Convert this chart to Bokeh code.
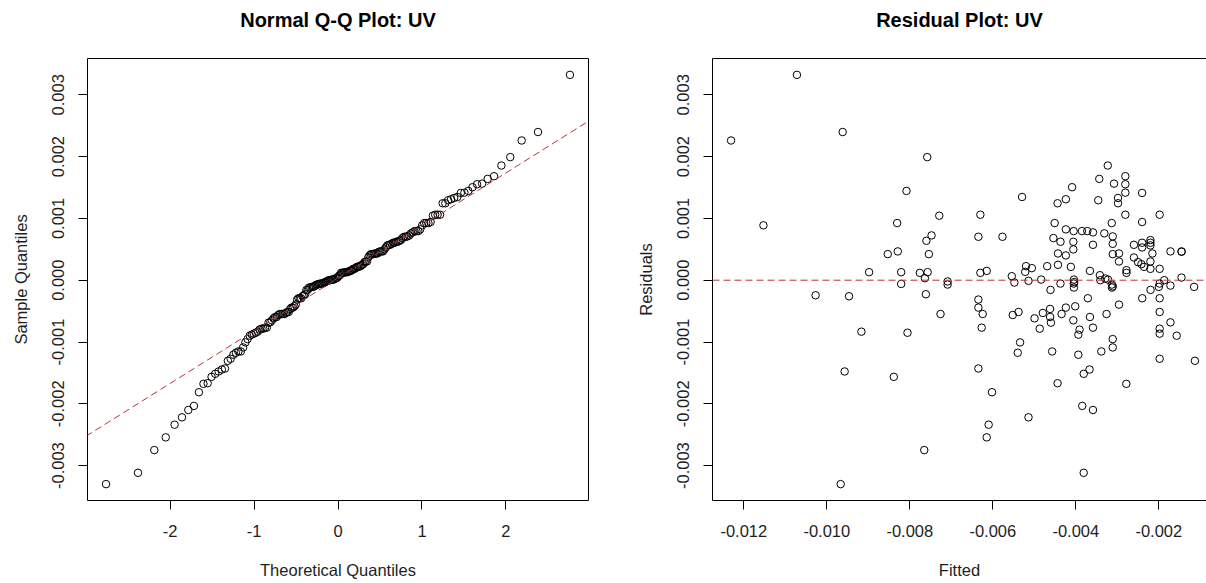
import statistics

from bokeh.embed import file_html
from bokeh.layouts import row
from bokeh.models import (FixedTicker, LinearAxis, NumeralTickFormatter, Range1d,
                          Slope, Span)
from bokeh.plotting import figure
from bokeh.resources import INLINE

# ---- data -----------------------------------------------------------------
# fitted values and residuals of the UV model
fitted = [
    -0.012307, -0.011527, -0.010720, -0.009618, -0.007580, -0.008080, -0.007290, -0.008305, -0.007476, -0.007600,
    -0.007541, -0.008531, -0.008290, -0.008981, -0.008208, -0.008208, -0.007758, -0.007570, -0.007637, -0.010270,
    -0.009464, -0.009167, -0.009570, -0.008386, -0.008056, -0.007652, -0.009666, -0.007613, -0.007260, -0.007089,
    -0.007089, -0.006300, -0.006348, -0.005768, -0.006300, -0.006147, -0.005295, -0.005543, -0.005200, -0.005220,
    -0.005060, -0.005480, -0.005140, -0.004835, -0.004690, -0.004440, -0.004240, -0.004090, -0.004510, -0.004540,
    -0.004370, -0.004430, -0.004240, -0.004430, -0.004240, -0.004053, -0.003853, -0.003724, -0.003587, -0.004060,
    -0.004060, -0.004120, -0.003660, -0.003587, -0.003460, -0.003435, -0.003230, -0.003080, -0.002983, -0.002983,
    -0.002807, -0.002807, -0.002807, -0.002807, -0.003314, -0.003135, -0.003111, -0.003111, -0.003110, -0.002960,
    -0.002960, -0.002780, -0.002780, -0.003420, -0.003290, -0.003225, -0.003410, -0.002403, -0.002403, -0.001980,
    -0.002600, -0.002403, -0.002403, -0.002203, -0.002203, -0.002203, -0.002155, -0.002600, -0.002500, -0.002420,
    -0.002355, -0.002203, -0.002203, -0.001980, -0.001720, -0.001454, -0.001450, -0.001454, -0.001870, -0.001980,
    -0.002000, -0.001720, -0.001150, -0.004370, -0.004046, -0.004040, -0.004050, -0.004046, -0.003130, -0.003130,
    -0.003110, -0.002200, -0.006348, -0.006348, -0.006244, -0.006268, -0.006348, -0.006020, -0.006100, -0.006147,
    -0.005520, -0.005380, -0.005343, -0.005400, -0.005140, -0.004995, -0.004870, -0.004795, -0.004610, -0.004620,
    -0.004620, -0.004600, -0.004570, -0.004440, -0.004343, -0.004240, -0.004060, -0.004015, -0.003910, -0.003940,
    -0.003940, -0.003810, -0.003670, -0.003845, -0.003587, -0.003810, -0.003710, -0.003660, -0.003587, -0.003386,
    -0.003260, -0.002960, -0.003111, -0.003111, -0.002783, -0.002400, -0.001980, -0.001980, -0.001980, -0.001980,
    -0.001980, -0.001720, -0.001570, -0.001130,
]

resid = [
    0.002261, 0.000888, 0.003323, 0.002398, 0.001992, 0.001445, 0.001044, 0.000925, 0.000725, 0.000638,
    0.000422, 0.000422, 0.000466, 0.000130, 0.000130, -0.000060, 0.000119, 0.000130, 0.000032, -0.000244,
    -0.000260, -0.000833, -0.001477, -0.001564, -0.000850, -0.002749, -0.003300, -0.000227, -0.000547, -0.000020,
    -0.000070, 0.001060, 0.000703, 0.000703, 0.000119, 0.000151, 0.001347, 0.000065, 0.000227, 0.000135,
    0.000195, -0.000038, -0.000010, 0.000010, 0.000227, 0.001245, 0.001310, 0.001505, 0.000925, 0.000682,
    0.000622, 0.000433, 0.000401, 0.000249, 0.000823, 0.000795, 0.000795, 0.000795, 0.000774, 0.000622,
    0.000498, 0.000216, 0.000151, 0.000573, 0.001294, 0.001640, 0.001856, 0.001563, 0.001331, 0.001245,
    0.001683, 0.001553, 0.001417, 0.001060, 0.000758, 0.000925, 0.000709, 0.000589, 0.000422, 0.000433,
    0.000303, 0.000162, 0.000119, 0.000081, 0.000027, 0.000010, 0.000000, 0.001412, 0.000942, 0.001060,
    0.000573, 0.000606, 0.000530, 0.000649, 0.000606, 0.000563, 0.000433, 0.000368, 0.000292, 0.000260,
    0.000216, 0.000303, 0.000184, 0.000184, 0.000466, 0.000466, 0.000460, 0.000043, 0.000000, -0.000054,
    -0.000108, -0.000087, -0.000108, -0.000054, 0.000010, -0.000030, -0.000054, -0.000119, -0.000070, -0.000119,
    -0.000100, -0.000157, -0.000313, -0.000443, -0.000547, -0.000768, -0.001429, -0.001813, -0.002338, -0.002543,
    -0.000563, -0.000514, -0.001006, -0.001174, -0.002219, -0.000617, -0.000784, -0.000530, -0.000157, -0.000465,
    -0.000595, -0.000687, -0.001153, -0.001667, -0.000547, -0.000443, -0.000649, -0.000422, -0.000800, -0.000881,
    -0.001206, -0.001515, -0.001445, -0.002034, -0.002100, -0.003117, -0.000292, -0.000595, -0.000768, -0.001153,
    -0.000547, -0.000395, -0.000953, -0.001088, -0.001677, -0.000292, -0.000292, -0.000514, -0.000784, -0.000865,
    -0.001271, -0.000682, -0.000898, -0.001304,
]

# reference line of the normal Q-Q plot (through the quartiles)
qq_line_intercept = 0.0000325
qq_line_slope = 0.000852

qq_x_ticks = [-2, -1, 0, 1, 2]
resid_ticks = [-0.003, -0.002, -0.001, 0.0, 0.001, 0.002, 0.003]
fitted_ticks = [-0.012, -0.010, -0.008, -0.006, -0.004, -0.002]

# ---- derived values ---------------------------------------------------------
n = len(resid)
sample_q = sorted(resid)
nd = statistics.NormalDist()
theo_q = [nd.inv_cdf((i + 0.5) / n) for i in range(n)]


def padded(values, frac=0.04):
    lo, hi = min(values), max(values)
    pad = (hi - lo) * frac
    return lo - pad, hi + pad


# ---- layout ------------------------------------------------------------------
FONT = "Liberation Sans"
FRAME_W = 501
FRAME_H = 442
TOP = 58
BOTTOM = 583 - TOP - FRAME_H
P1_LEFT = 87
P1_RIGHT = 36
P2_LEFT = 88
P2_FRAME_W = 1206 - (P1_LEFT + FRAME_W + P1_RIGHT) - P2_LEFT  # right panel runs off the page edge

LINE_RED = "#b53535"
TEXT = "#1e1e1e"


def style_axis(ax, vertical=False):
    ax.major_tick_out = 9
    ax.major_tick_in = 0
    ax.minor_tick_line_color = None
    ax.major_tick_line_color = "black"
    ax.axis_line_color = "black"
    ax.major_label_text_font = FONT
    ax.major_label_text_font_size = "16.5px"
    ax.major_label_text_color = TEXT
    ax.axis_label_text_font = FONT
    ax.axis_label_text_font_size = "16.5px"
    ax.axis_label_text_font_style = "normal"
    ax.axis_label_text_color = TEXT
    if vertical:
        ax.major_label_orientation = "vertical"
        ax.major_label_standoff = 14
        ax.axis_label_standoff = 20
    else:
        ax.major_label_standoff = 15
        ax.axis_label_standoff = 21


def border_axis(p, side, title=None):
    """Plain box edge; the top edge also carries the panel's main title."""
    ax = LinearAxis(ticker=FixedTicker(ticks=[]), major_tick_out=0, major_tick_in=0,
                    minor_tick_out=0, minor_tick_in=0, major_label_text_font_size="0px",
                    major_label_standoff=0, axis_line_color="black")
    if title is not None:
        ax.axis_label = title
        ax.axis_label_text_font = FONT
        ax.axis_label_text_font_size = "20px"
        ax.axis_label_text_font_style = "bold"
        ax.axis_label_text_color = "black"
        ax.axis_label_standoff = 28
    p.add_layout(ax, side)


def make_panel(frame_w, left, right, x_range, y_range):
    p = figure(frame_width=frame_w, frame_height=FRAME_H,
               min_border_left=left, min_border_right=right,
               min_border_top=TOP, min_border_bottom=BOTTOM,
               x_range=x_range, y_range=y_range,
               output_backend="svg", toolbar_location=None,
               background_fill_color="white", border_fill_color="white")
    p.outline_line_color = None
    p.xgrid.visible = False
    p.ygrid.visible = False
    return p


y_lo, y_hi = padded(resid)

# ---- Normal Q-Q plot ------------------------------------------------------------
qx_lo, qx_hi = padded(theo_q)
p1 = make_panel(FRAME_W, P1_LEFT, P1_RIGHT, Range1d(qx_lo, qx_hi), Range1d(y_lo, y_hi))
ax1x, ax1y = p1.below[0], p1.left[0]
ax1x.ticker = FixedTicker(ticks=qq_x_ticks)
ax1x.formatter = NumeralTickFormatter(format="0")
ax1y.ticker = FixedTicker(ticks=resid_ticks)
ax1y.formatter = NumeralTickFormatter(format="0.000")
ax1x.axis_label = "Theoretical Quantiles"
ax1y.axis_label = "Sample Quantiles"
style_axis(ax1x)
style_axis(ax1y, vertical=True)
border_axis(p1, "above", title="Normal Q-Q Plot: UV")
border_axis(p1, "right")

p1.add_layout(Slope(gradient=qq_line_slope, y_intercept=qq_line_intercept,
                    line_color=LINE_RED, line_width=1, line_dash="7 4"))
p1.scatter(theo_q, sample_q, marker="circle", size=7.5, fill_color=None,
           line_color="black", line_width=1)

# ---- Residual plot ----------------------------------------------------------------
fx_lo, fx_hi = padded(fitted)
fx_visible_hi = fx_lo + (fx_hi - fx_lo) * P2_FRAME_W / FRAME_W
p2 = make_panel(P2_FRAME_W, P2_LEFT, 0, Range1d(fx_lo, fx_visible_hi), Range1d(y_lo, y_hi))
ax2x, ax2y = p2.below[0], p2.left[0]
ax2x.ticker = FixedTicker(ticks=fitted_ticks)
ax2x.formatter = NumeralTickFormatter(format="0.000")
ax2y.ticker = FixedTicker(ticks=resid_ticks)
ax2y.formatter = NumeralTickFormatter(format="0.000")
ax2x.axis_label = "Fitted"
ax2y.axis_label = "Residuals"
style_axis(ax2x)
style_axis(ax2y, vertical=True)
border_axis(p2, "above", title="Residual Plot: UV")

p2.add_layout(Span(location=0, dimension="width", line_color=LINE_RED,
                   line_width=1, line_dash="7 4"))
p2.scatter(fitted, resid, marker="circle", size=7.5, fill_color=None,
           line_color="black", line_width=1)

layout = row(p1, p2, spacing=0)
open("out.html", "w").write(file_html(layout, INLINE))
